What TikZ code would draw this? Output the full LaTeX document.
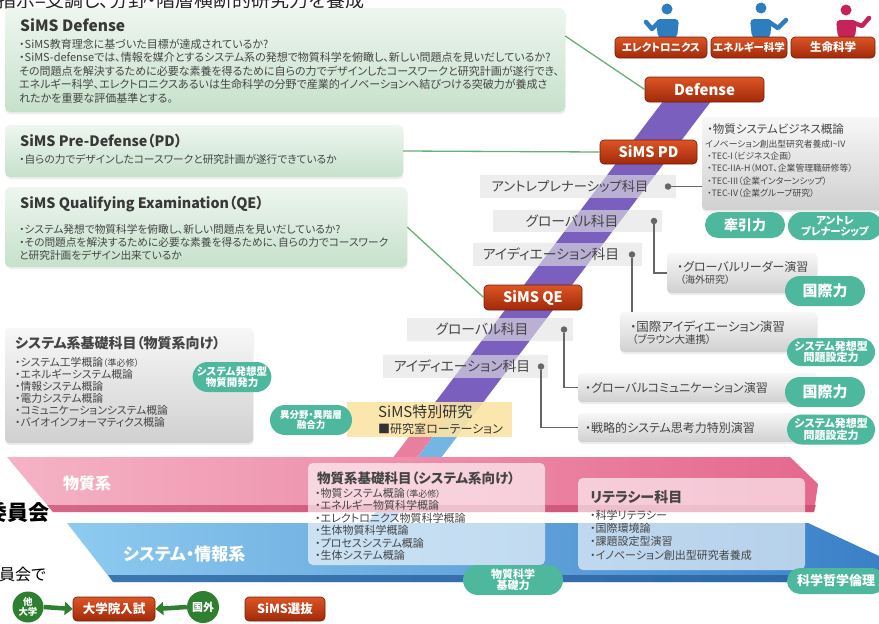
\documentclass[tikz,border=0pt]{standalone}
\usepackage{fontspec}
\setmainfont{Noto Sans CJK JP}[RawFeature=+palt]
\usetikzlibrary{calc,arrows.meta,shapes.misc,shadows}

\definecolor{txt}{HTML}{454545}
\definecolor{gtop}{HTML}{EEF6EF}
\definecolor{gbot}{HTML}{C6E1CB}
\definecolor{redtop}{HTML}{DC5524}
\definecolor{redbot}{HTML}{A1290A}
\definecolor{teal}{HTML}{4DB89D}
\definecolor{greytop}{HTML}{F7F7F7}
\definecolor{greybot}{HTML}{D0D0D0}
\definecolor{lbl}{HTML}{E2E2E2}
\definecolor{band}{HTML}{7A5FBE}
\definecolor{pinkL}{HTML}{F5B3C6}
\definecolor{pinkR}{HTML}{E5688E}
\definecolor{pinkD}{HTML}{C9486F}
\definecolor{blueL}{HTML}{8ECBF0}
\definecolor{blueR}{HTML}{3A80C8}
\definecolor{blueD}{HTML}{2A62A0}
\definecolor{lineg}{HTML}{67B073}
\definecolor{lined}{HTML}{666666}
\definecolor{dgreen}{HTML}{2F7F30}
\definecolor{yel}{HTML}{FBE5A5}
\definecolor{pblue}{HTML}{2D7DC1}
\definecolor{pmag}{HTML}{C42458}

\newcommand\setfz[2]{\fontsize{#1}{#2}\selectfont}

\tikzset{
  softshadow/.style={drop shadow={opacity=0.14, shadow xshift=0.6pt, shadow yshift=-2pt}},
  greenbox/.style={rounded corners=5pt, top color=gtop, bottom color=gbot, inner sep=0pt, softshadow},
  redbtn/.style={rounded corners=4pt, top color=redtop, bottom color=redbot, draw=redbot!70!black, line width=0.6pt, text=white, inner sep=0pt},
  pill/.style={rounded rectangle, fill=teal, text=white, align=center, inner sep=0pt},
  greybox/.style={rounded corners=4pt, top color=greytop, bottom color=greybot, inner sep=0pt, softshadow},
  whitebox/.style={rounded corners=5pt, fill=white, fill opacity=0.62, inner sep=0pt},
  lblbox/.style={fill=lbl, fill opacity=0.62, inner sep=0pt},
  lbltext/.style={inner sep=0pt, text=txt, font=\setfz{13.8}{14}},
  gline/.style={draw=lineg, line width=1.3pt},
  dline/.style={draw=lined, line width=1.8pt},
  dot/.style={circle, fill=lined, inner sep=0pt, minimum size=6.5pt},
  txtline/.style={anchor=west, inner sep=0pt, text=txt},
  gcircle/.style={circle, fill=dgreen, text=white, align=center, inner sep=0pt},
  garrow/.style={draw=dgreen, line width=4.5pt, -{Triangle[length=8pt,width=13pt]}},
}

\begin{document}
\begin{tikzpicture}[x=1pt,y=-1pt]
\useasboundingbox (0,0) rectangle (879,624);
\fill[white] (0,0) rectangle (879,624);
\begin{scope}
\clip (0,0) rectangle (879,624);

% heading line running off the top edge
\node[anchor=west, inner sep=0pt, text=black!85, font=\setfz{19}{20}] (hdr) at (-3,0) {指示=支調し、分野・階層横断的研究力を養成};

% ---------- rising streams ----------
\fill[pinkR!85] (437,400) -- (461,400) -- (400,480) -- (376,480) -- cycle;
\fill[blueL!70!blueR] (461,400) -- (485,400) -- (390,525) -- (366,525) -- cycle;
\fill[band] (665.5,98) -- (713.5,98) -- (477.3,410) -- (429.3,410) -- cycle;

% ---------- base bands ----------
\shade[left color=pinkL, right color=pinkR] (7,457) -- (790,457) -- (818,484) -- (814,512) -- (53,512) -- cycle;
\fill[pinkD, opacity=0.7] (47,505) -- (816,505) -- (814,512) -- (53,512) -- cycle;
\shade[left color=blueL, right color=blueR] (67,523) -- (808,523) -- (879,556) -- (879,582) -- (113,582) -- cycle;
\fill[blueD, opacity=0.8] (108,575) -- (879,575) -- (879,582) -- (113,582) -- cycle;
\node[anchor=west, inner sep=0pt, text=white, font=\bfseries\setfz{16}{17}] (matband) at (63,483) {物質系};
\node[anchor=west, inner sep=0pt, text=white, font=\bfseries\setfz{17}{18}] (sysband) at (123,554) {システム・情報系};

% ---------- figures ----------
\fill[pblue] (667,9) circle[radius=5.5pt];
\fill[pblue, rounded corners=4pt] (658,38) -- (656,19) -- (679,19) -- (677,38) -- cycle;
\draw[pblue, line width=4.5pt, line cap=round, line join=round] (659,22) -- (652,29) -- (646,22);
\fill[pblue] (761,8) circle[radius=5.5pt];
\fill[pblue, rounded corners=4pt] (752,38) -- (750,19) -- (772,19) -- (770,38) -- cycle;
\draw[pblue, line width=4.5pt, line cap=round, line join=round] (769,22) -- (778,28) -- (786,20);
\fill[pmag] (846,10) circle[radius=5.5pt];
\fill[pmag, rounded corners=4pt] (838,38) -- (836,20) -- (857,20) -- (855,38) -- cycle;
\draw[pmag, line width=4.5pt, line cap=round, line join=round] (854,23) -- (862,26) -- (869,18);

% ---------- review boxes ----------
\node[greenbox, minimum width=560pt, minimum height=104pt] (defbox) at (285,60) {};
\node[txtline, text=black!78, font=\bfseries\setfz{15.5}{16}] (deft) at (20,25) {SiMS Defense};
\node[txtline, font=\setfz{11}{12}] (def1) at (19,44) {・SiMS教育理念に基づいた目標が達成されているか?};
\node[txtline, font=\setfz{11}{12}] (def2) at (19,57.5) {・SiMS-defenseでは、情報を媒介とするシステム系の発想で物質科学を俯瞰し、新しい問題点を見いだしているか?};
\node[txtline, font=\setfz{11}{12}] (def3) at (19,71) {その問題点を解決するために必要な素養を得るために自らの力でデザインしたコースワークと研究計画が遂行でき、};
\node[txtline, font=\setfz{11}{12}] (def4) at (19,84.5) {エネルギー科学、エレクトロニクスあるいは生命科学の分野で産業的イノベーションへ結びつける突破力が養成さ};
\node[txtline, font=\setfz{11}{12}] (def5) at (19,98) {れたかを重要な評価基準とする。};

\node[greenbox, minimum width=398pt, minimum height=52pt] (pdbox) at (204,151) {};
\node[txtline, text=black!78, font=\bfseries\setfz{14.3}{15}] (pdt) at (20,141) {SiMS Pre-Defense（PD）};
\node[txtline, font=\setfz{10.7}{11}] (pd1) at (19,159) {・自らの力でデザインしたコースワークと研究計画が遂行できているか};

\node[greenbox, minimum width=402pt, minimum height=80pt] (qebox) at (206,227) {};
\node[txtline, text=black!78, font=\bfseries\setfz{14.3}{15}] (qet) at (20,204) {SiMS Qualifying Examination（QE）};
\node[txtline, font=\setfz{10.7}{11}] (qe1) at (19,229) {・システム発想で物質科学を俯瞰し、新しい問題点を見いだしているか?};
\node[txtline, font=\setfz{10.7}{11}] (qe2) at (19,242) {・その問題点を解決するために必要な素養を得るために、自らの力でコースワーク};
\node[txtline, font=\setfz{10.7}{11}] (qe3) at (19,255) {と研究計画をデザイン出来ているか};

% ---------- course labels over the stream ----------
\node[lblbox, minimum width=196pt, minimum height=23pt] (L1) at (578,186.5) {};
\node[lbltext, font=\setfz{13.3}{14}] (L1t) at (570,186.5) {アントレプレナーシップ科目};
\node[lblbox, minimum width=169pt, minimum height=22pt] (L2) at (577.5,221) {};
\node[lbltext] (L2t) at (572,221) {グローバル科目};
\node[lblbox, minimum width=169pt, minimum height=23pt] (L3) at (557.5,254.5) {};
\node[lbltext] (L3t) at (551,254.5) {アイディエーション科目};
\node[lblbox, minimum width=166pt, minimum height=23pt] (L4) at (490,329.5) {};
\node[lbltext] (L4t) at (482,329.5) {グローバル科目};
\node[lblbox, minimum width=165pt, minimum height=23pt] (L5) at (465.5,366.5) {};
\node[lbltext] (L5t) at (462,366.5) {アイディエーション科目};

% ---------- exercise boxes on the right ----------
\node[greybox, minimum width=198pt, minimum height=93pt] (tec) at (801,163.5) {};
\node[txtline, font=\setfz{11.5}{12}] (tec1) at (707,129) {・物質システムビジネス概論};
\node[anchor=north west, inner sep=0pt, text=txt, align=left, font=\setfz{8.8}{12.4}] (teclist) at (705,139.5)
  {イノベーション創出型研究者養成I\textasciitilde IV\\
   \hspace{2pt}・TEC-I（ビジネス企画）\\
   \hspace{2pt}・TEC-IIA-H（MOT、企業管理職研修等）\\
   \hspace{2pt}・TEC-III（企業インターンシップ）\\
   \hspace{2pt}・TEC-IV（企業グループ研究）};

\node[greybox, minimum width=150pt, minimum height=40pt] (glr) at (742,273) {};
\node[txtline, font=\setfz{12}{12}] (glr1) at (677,267) {・グローバルリーダー演習};
\node[txtline, font=\setfz{10}{10}] (glr2) at (680,280) {（海外研究）};

\node[greybox, minimum width=197pt, minimum height=40pt] (iid) at (718.5,332) {};
\node[txtline, font=\setfz{12.5}{13}] (iid1) at (630,327) {・国際アイディエーション演習};
\node[txtline, font=\setfz{10.5}{11}] (iid2) at (632,340) {（ブラウン大連携）};

\node[greybox, minimum width=239pt, minimum height=29pt] (gcm) at (697.5,387.5) {};
\node[txtline, font=\setfz{12}{13}] (gcm1) at (585,387.5) {・グローバルコミュニケーション演習};

\node[greybox, minimum width=239pt, minimum height=29pt] (sst) at (697.5,427.5) {};
\node[txtline, font=\setfz{12}{13}] (sst1) at (585,427.5) {・戦略的システム思考力特別演習};

% dots and leaders
\node[dot] (d1) at (668,186.5) {};
\node[dot] (d2) at (654,221) {};
\node[dot] (d3) at (632,254.5) {};
\node[dot] (d4) at (564,329.5) {};
\node[dot] (d5) at (541,366.5) {};
\draw[dline] (d1) -- (tec.west |- d1);
\draw[dline] (d2) |- (glr.west);
\draw[dline] (d3) -- (d3 |- iid.north);
\draw[dline] (d4) |- (gcm.west);
\draw[dline] (d5) |- (sst.west);

% ---------- left course box ----------
\node[greybox, minimum width=248pt, minimum height=115pt] (lft) at (129,385.5) {};
\node[txtline, font=\bfseries\setfz{14}{15}] (lftt) at (15,343) {システム系基礎科目（物質系向け）};
\node[txtline, font=\setfz{10.8}{11}] (lft1) at (15,362) {・システム工学概論{\setfz{9}{9}（準必修）}};
\node[txtline, font=\setfz{10.8}{11}] (lft2) at (15,374) {・エネルギーシステム概論};
\node[txtline, font=\setfz{10.8}{11}] (lft3) at (15,386) {・情報システム概論};
\node[txtline, font=\setfz{10.8}{11}] (lft4) at (15,398) {・電力システム概論};
\node[txtline, font=\setfz{10.8}{11}] (lft5) at (15,410) {・コミュニケーションシステム概論};
\node[txtline, font=\setfz{10.8}{11}] (lft6) at (15,422) {・バイオインフォーマティクス概論};

% ---------- special research ----------
\node[fill=yel, fill opacity=0.9, inner sep=0pt, minimum width=165pt, minimum height=35pt] (yelbox) at (429.5,419.5) {};
\node[txtline, text=black!80, font=\setfz{15}{15}] (yel1) at (378,412) {SiMS特別研究};
\node[txtline, text=black!80, font=\setfz{12}{12}] (yel2) at (378,429) {■研究室ローテーション};

% ---------- bottom course boxes ----------
\node[whitebox, minimum width=237pt, minimum height=102pt] (mat) at (426.5,514) {};
\node[txtline, font=\bfseries\setfz{13.5}{14}] (matt) at (317,478) {物質系基礎科目（システム系向け）};
\node[txtline, font=\setfz{11}{11}] (mat1) at (315,493) {・物質システム概論{\setfz{9}{9}（準必修）}};
\node[txtline, font=\setfz{11}{11}] (mat2) at (315,505.5) {・エネルギー物質科学概論};
\node[txtline, font=\setfz{11}{11}] (mat3) at (315,518) {・エレクトロニクス物質科学概論};
\node[txtline, font=\setfz{11}{11}] (mat4) at (315,530.5) {・生体物質科学概論};
\node[txtline, font=\setfz{11}{11}] (mat5) at (315,543) {・プロセスシステム概論};
\node[txtline, font=\setfz{11}{11}] (mat6) at (315,555.5) {・生体システム概論};

\node[whitebox, minimum width=227pt, minimum height=92pt] (lit) at (691.5,524) {};
\node[txtline, font=\bfseries\setfz{14}{15}] (litt) at (590,497) {リテラシー科目};
\node[txtline, font=\setfz{11}{11}] (lit1) at (590,515) {・科学リテラシー};
\node[txtline, font=\setfz{11}{11}] (lit2) at (590,528) {・国際環境論};
\node[txtline, font=\setfz{11}{11}] (lit3) at (590,541.5) {・課題設定型演習};
\node[txtline, font=\setfz{11}{11}] (lit4) at (590,555) {・イノベーション創出型研究者養成};

% ---------- ability pills ----------
\node[pill, minimum width=80pt, minimum height=26pt, font=\bfseries\setfz{14}{14}] (p1) at (745,225) {牽引力};
\node[pill, minimum width=94pt, minimum height=28pt, font=\bfseries\setfz{10.5}{11}] (p2) at (835,226) {アントレ\\プレナーシップ};
\node[pill, minimum width=80pt, minimum height=30pt, font=\bfseries\setfz{15}{15}] (p3) at (825,291) {国際力};
\node[pill, minimum width=88pt, minimum height=28pt, font=\bfseries\setfz{11}{11.5}] (p4) at (831,352) {システム発想型\\問題設定力};
\node[pill, minimum width=80pt, minimum height=30pt, font=\bfseries\setfz{15}{15}] (p5) at (825,392) {国際力};
\node[pill, minimum width=88pt, minimum height=30pt, font=\bfseries\setfz{11}{11.5}] (p6) at (831,429.5) {システム発想型\\問題設定力};
\node[pill, minimum width=72pt, minimum height=30pt, font=\bfseries\setfz{10.5}{11}] (p7) at (232,377) {システム発想型\\物質開発力};
\node[pill, minimum width=82pt, minimum height=30pt, font=\bfseries\setfz{9.5}{10.5}] (p8) at (311,420) {異分野・異階層\\融合力};
\node[pill, minimum width=100pt, minimum height=30pt, font=\bfseries\setfz{11}{11.5}] (p9) at (513,580) {物質科学\\基礎力};
\node[pill, minimum width=98pt, minimum height=26pt, font=\bfseries\setfz{13}{13}] (p10) at (836,581) {科学哲学倫理};

% ---------- milestone buttons ----------
\node[redbtn, minimum width=92pt, minimum height=21pt, font=\bfseries\setfz{10.5}{11}] (b1) at (661,47.5) {エレクトロニクス};
\node[redbtn, minimum width=76pt, minimum height=21pt, font=\bfseries\setfz{10.5}{11}] (b2) at (749,47.5) {エネルギー科学};
\node[redbtn, minimum width=84pt, minimum height=21pt, font=\bfseries\setfz{11.5}{12}] (b3) at (833,47.5) {生命科学};
\node[redbtn, minimum width=119pt, minimum height=25pt, font=\bfseries\setfz{15}{15}] (def) at (704.5,89.5) {Defense};
\node[redbtn, minimum width=97pt, minimum height=24pt, font=\bfseries\setfz{14.5}{15}] (pd) at (648.5,152) {SiMS PD};
\node[redbtn, minimum width=98pt, minimum height=25pt, font=\bfseries\setfz{14.5}{15}] (qe) at (533,297.5) {SiMS QE};

% review connectors
\draw[gline] ($(defbox.north east)!0.27!(defbox.south east)$) -- (def.west);
\draw[gline] (pdbox.east) -- (pd.west);
\draw[gline] (qebox.east) -- (qe.west);

% ---------- left margin text ----------
\node[anchor=east, inner sep=0pt, text=black, font=\bfseries\setfz{21}{22}] (cm1) at (50,513) {委員会};
\node[anchor=west, inner sep=0pt, text=black, font=\setfz{16}{17}] (cm2) at (-1,574) {員会で};

% ---------- admission row ----------
\node[gcircle, minimum size=31pt, font=\bfseries\setfz{9.5}{9.5}] (c1) at (28,607) {他\\大学};
\node[redbtn, minimum width=82pt, minimum height=24pt, font=\bfseries\setfz{12.5}{13}] (b4) at (114,609) {大学院入試};
\node[gcircle, minimum size=32pt, font=\bfseries\setfz{11}{11}] (c2) at (203,607) {国外};
\node[redbtn, minimum width=80pt, minimum height=24pt, font=\bfseries\setfz{12.5}{13}] (b5) at (285,609) {SiMS選抜};
\draw[garrow] (c1.east) -- (b4.west);
\draw[garrow] (c2.west) -- (b4.east);

\end{scope}
\end{tikzpicture}
\end{document}
